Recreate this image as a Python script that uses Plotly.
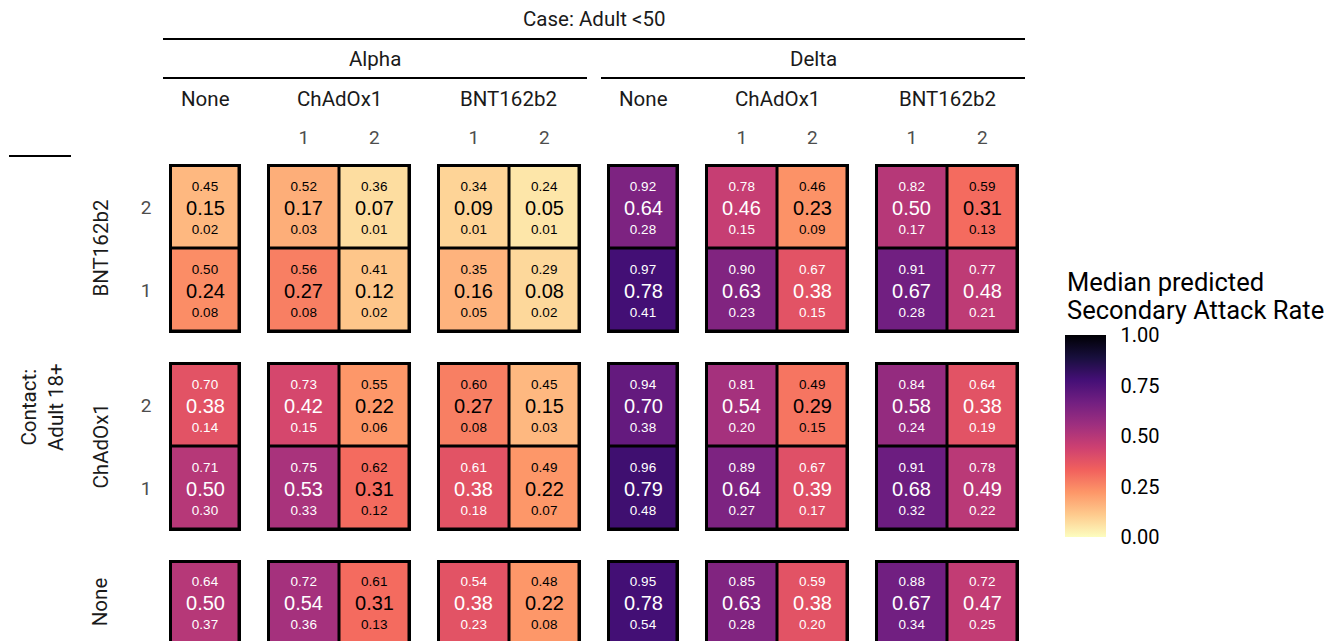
import plotly.graph_objects as go

W, H = 1339, 641

# ---------------- data ----------------
variants = ["Alpha", "Delta"]
case_vaccines = ["None", "ChAdOx1", "BNT162b2"]
contact_vaccines = ["BNT162b2", "ChAdOx1", "None"]
doses = ["1", "2"]

# rows (top->bottom): BNT162b2 2, BNT162b2 1, ChAdOx1 2, ChAdOx1 1, None
# cols: None, ChAdOx1 1, ChAdOx1 2, BNT162b2 1, BNT162b2 2
alpha_median = [
    [0.15, 0.17, 0.07, 0.09, 0.05],
    [0.24, 0.27, 0.12, 0.16, 0.08],
    [0.38, 0.42, 0.22, 0.27, 0.15],
    [0.50, 0.53, 0.31, 0.38, 0.22],
    [0.50, 0.54, 0.31, 0.38, 0.22],
]
alpha_upper = [
    [0.45, 0.52, 0.36, 0.34, 0.24],
    [0.50, 0.56, 0.41, 0.35, 0.29],
    [0.70, 0.73, 0.55, 0.60, 0.45],
    [0.71, 0.75, 0.62, 0.61, 0.49],
    [0.64, 0.72, 0.61, 0.54, 0.48],
]
alpha_lower = [
    [0.02, 0.03, 0.01, 0.01, 0.01],
    [0.08, 0.08, 0.02, 0.05, 0.02],
    [0.14, 0.15, 0.06, 0.08, 0.03],
    [0.30, 0.33, 0.12, 0.18, 0.07],
    [0.37, 0.36, 0.13, 0.23, 0.08],
]
delta_median = [
    [0.64, 0.46, 0.23, 0.50, 0.31],
    [0.78, 0.63, 0.38, 0.67, 0.48],
    [0.70, 0.54, 0.29, 0.58, 0.38],
    [0.79, 0.64, 0.39, 0.68, 0.49],
    [0.78, 0.63, 0.38, 0.67, 0.47],
]
delta_upper = [
    [0.92, 0.78, 0.46, 0.82, 0.59],
    [0.97, 0.90, 0.67, 0.91, 0.77],
    [0.94, 0.81, 0.49, 0.84, 0.64],
    [0.96, 0.89, 0.67, 0.91, 0.78],
    [0.95, 0.85, 0.59, 0.88, 0.72],
]
delta_lower = [
    [0.28, 0.15, 0.09, 0.17, 0.13],
    [0.41, 0.23, 0.15, 0.28, 0.21],
    [0.38, 0.20, 0.15, 0.24, 0.19],
    [0.48, 0.27, 0.17, 0.32, 0.22],
    [0.54, 0.28, 0.20, 0.34, 0.25],
]
colorbar_ticks = [0.0, 0.25, 0.5, 0.75, 1.0]

data = {
    "Alpha": (alpha_median, alpha_upper, alpha_lower),
    "Delta": (delta_median, delta_upper, delta_lower),
}

col_groups = {"None": [0], "ChAdOx1": [1, 2], "BNT162b2": [3, 4]}
row_groups = {"BNT162b2": [1, 0], "ChAdOx1": [3, 2], "None": [4]}  # bottom -> top

# ---------------- layout geometry (pixels) ----------------
X0, CELL_W, GAP_X = 169, 72, 26
Y0, CELL_H, GAP_Y = 164, 84.5, 29
BW = 3  # border width
IN = BW / 2

FONT_STRIP = dict(family="Roboto", size=20.5, color="#1A1A1A")
FONT_TICK = dict(family="Roboto", size=19, color="#4D4D4D")
CELL_FONT = "Liberation Sans, Arial"

def px_x(x):
    return x / W

def px_y(y):
    return 1 - y / H

panel_x = {}
x = X0
for v in variants:
    for cv in case_vaccines:
        n = len(col_groups[cv])
        panel_x[(v, cv)] = (x, x + n * CELL_W)
        x += n * CELL_W + GAP_X

panel_y = {}
y = Y0
for rv in contact_vaccines:
    n = len(row_groups[rv])
    panel_y[rv] = (y, y + n * CELL_H)
    y += n * CELL_H + GAP_Y

# both variants share an identical colour scale; two colour axes are used only
# so the legend can show labels (one bar) and white inner tick marks (other bar)
cax_for = {"Alpha": "coloraxis", "Delta": "coloraxis2"}

fig = go.Figure()
layout_axes = {}
shapes = []
k = 0
for ri, rv in enumerate(contact_vaccines):
    for v in variants:
        med, up, lo = data[v]
        for cv in case_vaccines:
            k += 1
            cols = col_groups[cv]
            rows = row_groups[rv]
            xcats = doses[:len(cols)] if cv != "None" else ["0"]
            ycats = doses[:len(rows)] if rv != "None" else ["0"]
            z, txt = [], []
            px_, py_, ut, lt, tc = [], [], [], [], []
            for yi, r in enumerate(rows):
                zr, tr = [], []
                for xi, c in enumerate(cols):
                    m, u, l = med[r][c], up[r][c], lo[r][c]
                    col = "#000000" if m < 0.35 else "#FFFFFF"
                    zr.append(m)
                    tr.append(f"<span style='color:{col}'>{m:.2f}</span>")
                    px_.append(xcats[xi])
                    py_.append(ycats[yi])
                    ut.append(f"{u:.2f}")
                    lt.append(f"{l:.2f}")
                    tc.append(col)
                z.append(zr)
                txt.append(tr)
            xa = "x" if k == 1 else f"x{k}"
            ya = "y" if k == 1 else f"y{k}"
            fig.add_trace(go.Heatmap(
                x=xcats, y=ycats, z=z, text=txt, texttemplate="%{text}",
                textfont=dict(family=CELL_FONT, size=20),
                coloraxis=cax_for[v], xgap=BW, ygap=BW,
                xaxis=xa, yaxis=ya, hoverinfo="skip",
            ))
            # upper bound labels (above median)
            fig.add_trace(go.Scatter(
                x=px_, y=py_, text=ut, mode="markers+text", textposition="top center",
                marker=dict(size=18.6, opacity=0), cliponaxis=False,
                textfont=dict(family=CELL_FONT, size=13.5, color=tc),
                xaxis=xa, yaxis=ya, hoverinfo="skip", showlegend=False,
            ))
            # lower bound labels (below median)
            fig.add_trace(go.Scatter(
                x=px_, y=py_, text=lt, mode="markers+text", textposition="bottom center",
                marker=dict(size=25.4, opacity=0), cliponaxis=False,
                textfont=dict(family=CELL_FONT, size=13.5, color=tc),
                xaxis=xa, yaxis=ya, hoverinfo="skip", showlegend=False,
            ))
            bx0, bx1 = panel_x[(v, cv)]
            by0, by1 = panel_y[rv]
            clipped = by1 - IN > H
            dom_y = [0 if clipped else px_y(by1 - IN), px_y(by0 + IN)]
            if clipped:
                full = (by1 - IN) - (by0 + IN)
                vis = H - (by0 + IN)
                yrange = [len(ycats) - 0.5 - len(ycats) * vis / full, len(ycats) - 0.5]
            else:
                yrange = [-0.5, len(ycats) - 0.5]
            top_row = ri == 0
            xkey = "xaxis" if k == 1 else f"xaxis{k}"
            ykey = "yaxis" if k == 1 else f"yaxis{k}"
            layout_axes[xkey] = dict(
                domain=[px_x(bx0 + IN), px_x(bx1 - IN)], anchor=ya,
                type="category", categoryorder="array", categoryarray=xcats,
                range=[-0.5, len(xcats) - 0.5],
                side="top", showline=False,
                showgrid=False, zeroline=False, ticks="",
                showticklabels=top_row and cv != "None",
                tickfont=FONT_TICK, ticklabelstandoff=17,
                fixedrange=True,
            )
            layout_axes[ykey] = dict(
                domain=dom_y, anchor=xa,
                type="category", categoryorder="array", categoryarray=ycats,
                range=yrange, showline=False,
                showgrid=False, zeroline=False, ticks="",
                showticklabels=(v == "Alpha" and cv == "None" and rv != "None"),
                tickfont=FONT_TICK, ticklabelstandoff=18,
                fixedrange=True,
            )
            shapes.append(dict(
                type="rect", xref=f"{xa} domain", yref=f"{ya} domain",
                x0=0, x1=1, y0=-0.5 if clipped else 0, y1=1,
                line=dict(color="#000000", width=BW), fillcolor="rgba(0,0,0,0)",
                layer="above",
            ))

annotations = []

def ann(text, xp, yp, font, angle=0, xanchor="center", yanchor="middle"):
    annotations.append(dict(
        text=text, x=px_x(xp), y=px_y(yp), xref="paper", yref="paper",
        showarrow=False, font=font, textangle=angle,
        xanchor=xanchor, yanchor=yanchor,
    ))

def seg(x0, x1, y0, y1, color="#000000", w=2.2):
    shapes.append(dict(type="line", xref="paper", yref="paper",
                       x0=px_x(x0), x1=px_x(x1), y0=px_y(y0), y1=px_y(y1),
                       line=dict(color=color, width=w)))

# top strips
all_l = panel_x[("Alpha", "None")][0] - 6
all_r = panel_x[("Delta", "BNT162b2")][1] + 6
ann("Case: Adult &lt;50", (all_l + all_r) / 2, 19, FONT_STRIP)
seg(all_l, all_r, 39, 39)
for v in variants:
    l = panel_x[(v, "None")][0] - 6
    r = panel_x[(v, "BNT162b2")][1] + 6
    ann(v, (l + r) / 2, 59, FONT_STRIP)
    seg(l, r, 78, 78)
    for cv in case_vaccines:
        a, b = panel_x[(v, cv)]
        ann(cv, (a + b) / 2, 99, FONT_STRIP)

# left strips
for rv in contact_vaccines:
    a, b = panel_y[rv]
    ann(rv, 100, (a + b) / 2, FONT_STRIP, angle=-90)
ann("Contact:<br>Adult 18+", 42, 407, FONT_STRIP, angle=-90)
seg(9, 71, 156, 156)

# colour bar geometry
CB_X, CB_W, CB_TOP, CB_BOT = 1065, 41, 335, 537
TITLE_FONT = dict(family="Roboto", size=25.5, color="#000000")
ann("Median predicted", CB_X, 282, TITLE_FONT, xanchor="left")
ann("Secondary Attack Rate", CB_X, 310, TITLE_FONT, xanchor="left")

cb_common = dict(
    x=px_x(CB_X), xanchor="left", xref="paper",
    y=px_y((CB_TOP + CB_BOT) / 2), yanchor="middle", yref="paper",
    len=CB_BOT - CB_TOP, lenmode="pixels", thickness=CB_W, thicknessmode="pixels",
    outlinewidth=0, tickvals=colorbar_ticks, tickformat=".2f",
    tickfont=dict(family="Roboto", size=20, color="#000000"),
    xpad=0, ypad=0,
)

fig.update_layout(
    width=W, height=H,
    margin=dict(l=0, r=0, t=0, b=0),
    paper_bgcolor="#FFFFFF", plot_bgcolor="#000000",
    showlegend=False,
    annotations=annotations, shapes=shapes,
    coloraxis=dict(
        colorscale="Magma_r", cmin=0, cmax=1,
        colorbar=dict(**cb_common, ticks="inside", ticklen=7,
                      tickcolor="#FFFFFF", tickwidth=1, showticklabels=False),
    ),
    coloraxis2=dict(
        colorscale="Magma_r", cmin=0, cmax=1,
        colorbar=dict(**cb_common, ticks="outside", ticklen=11,
                      tickcolor="rgba(0,0,0,0)"),
    ),
    **layout_axes,
)

fig.write_html("out.html", config={"displayModeBar": False},
               post_script="document.body.style.margin='0px';")
